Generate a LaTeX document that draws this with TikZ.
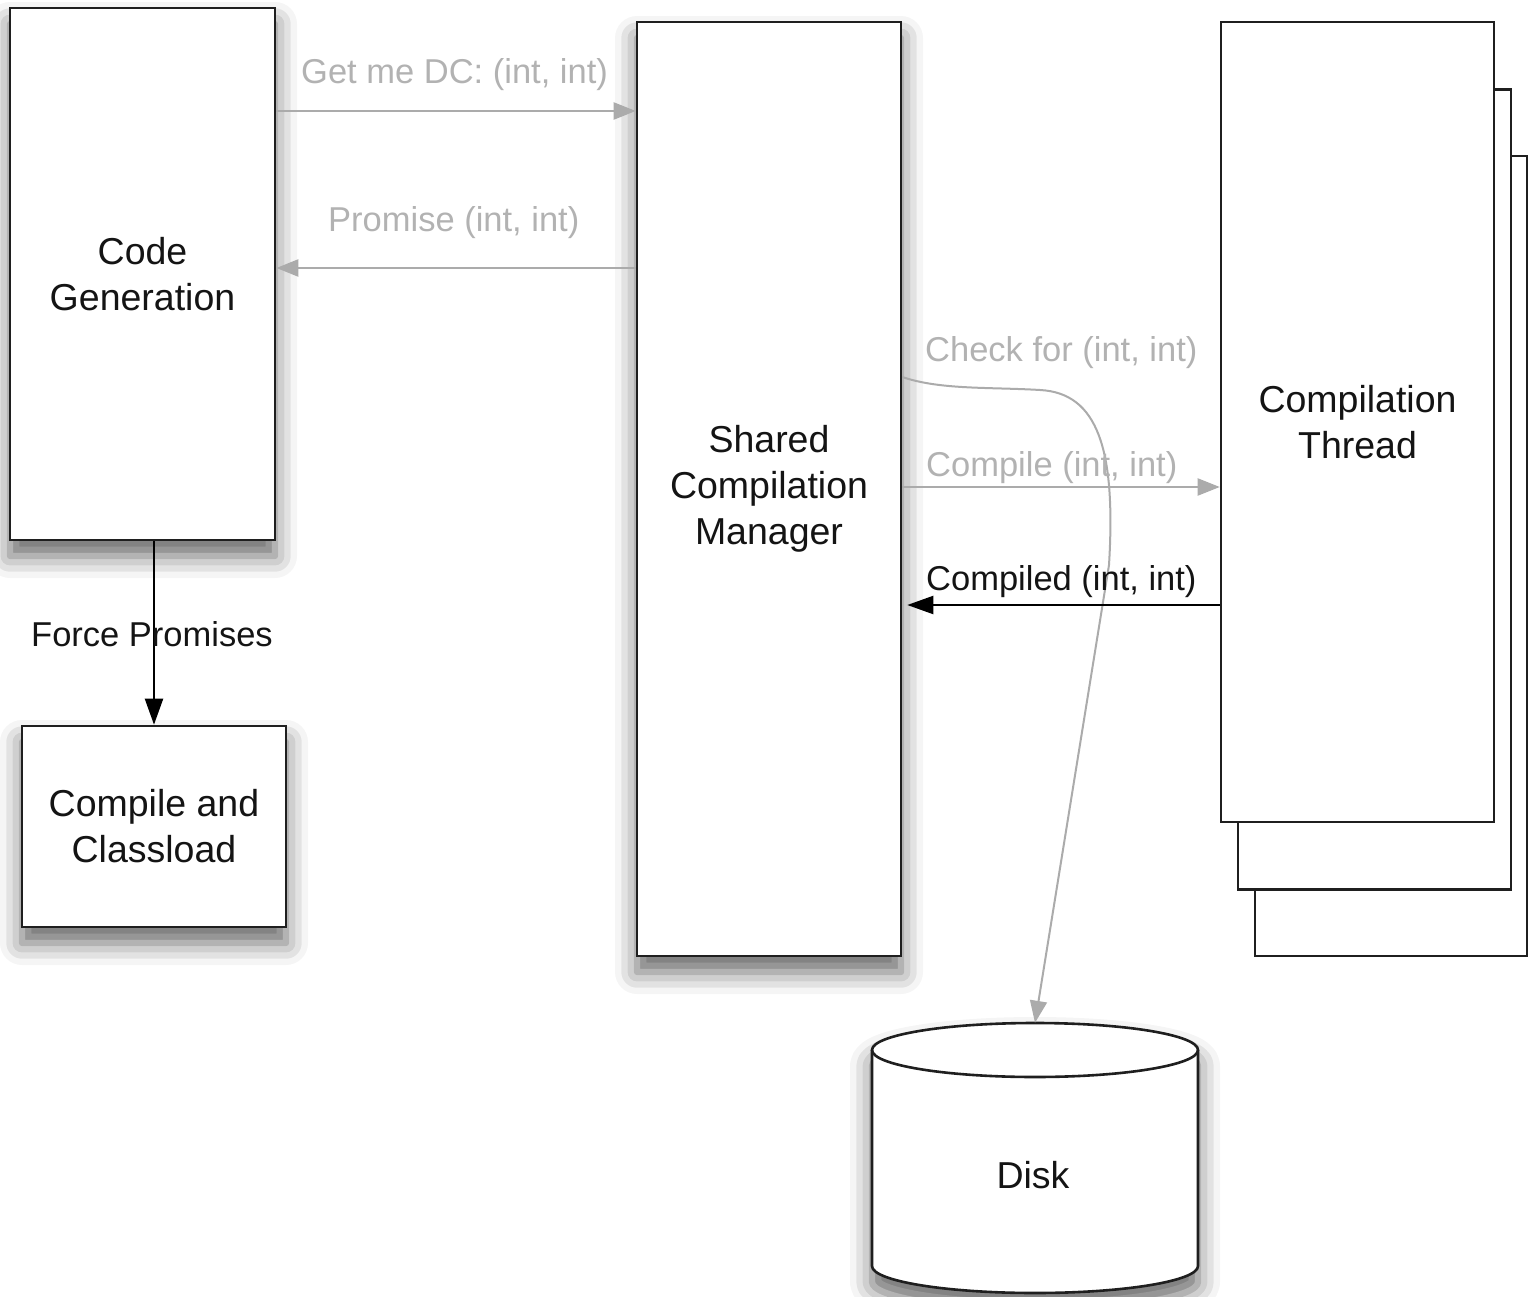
\documentclass[tikz,border=0pt]{standalone}
\usepackage{fontspec}
\setmainfont{Liberation Sans}
\usetikzlibrary{arrows.meta,shadows.blur}
\begin{document}
\begin{tikzpicture}[x=1pt,y=1pt,
  box/.style={draw=black!88, line width=2.6pt, fill=white, align=center, inner sep=0pt, text=black!92, font=\fontsize{37.5}{46}\selectfont},
  shad/.style={blur shadow={shadow xshift=0pt, shadow yshift=-16pt, shadow blur radius=22pt, shadow opacity=60}},
  glbl/.style={font=\fontsize{34.5}{40}\selectfont, inner sep=0pt, text=black!30, anchor=base west},
  blbl/.style={font=\fontsize{34.5}{40}\selectfont, inner sep=0pt, text=black!92, anchor=base west},
  garrow/.style={draw=black!33, line width=2pt, -{Triangle[length=22pt,width=17pt]}},
  barrow/.style={draw=black, line width=2.2pt, -{Triangle[length=26pt,width=18pt]}},
]
\useasboundingbox (0,0) rectangle (1529,-1297);

% boxes
\node[box, shad, minimum width=265, minimum height=532] (cg) at (142.5,-274) {Code\\Generation};
\node[box, shad, minimum width=264, minimum height=201] (ccl) at (154,-826.5) {Compile and\\Classload};
\node[box, shad, minimum width=264, minimum height=934] (scm) at (769,-489) {Shared\\Compilation\\Manager};

% compilation thread stack
\node[box, minimum width=272, minimum height=800] (ct3) at (1391,-556) {};
\node[box, minimum width=273, minimum height=800] (ct2) at (1374.5,-489.5) {};
\node[box, minimum width=273, minimum height=800] (ct) at (1357.5,-422) {Compilation\\Thread};

% disk
\node[minimum width=326, minimum height=270, inner sep=0pt] (disk) at (1035,-1158) {};
\path[shad, fill=white] (872,-1050) -- (872,-1266) arc[start angle=180, end angle=360, x radius=163, y radius=27] -- (1198,-1050) arc[start angle=0, end angle=180, x radius=163, y radius=27] -- cycle;
\draw[draw=black!88, line width=2.6pt, fill=white] (872,-1050) -- (872,-1266) arc[start angle=180, end angle=360, x radius=163, y radius=27] -- (1198,-1050);
\draw[draw=black!88, line width=2.6pt] (1035,-1050) ellipse[x radius=163, y radius=27];
\node[font=\fontsize{37.5}{46}\selectfont, text=black!92, inner sep=0pt] (disklbl) at (1033,-1175) {Disk};

% connectors
\coordinate (y1) at (0,-111);
\coordinate (y2) at (0,-268);
\coordinate (y3) at (0,-377);
\coordinate (y4) at (0,-487);
\coordinate (y5) at (0,-605);

\draw[garrow] (cg.east |- y1) -- (scm.west |- y1);
\node[glbl] (l1) at (301,-84) {Get me DC: (int, int)};

\draw[garrow] (scm.west |- y2) -- (cg.east |- y2);
\node[glbl] (l2) at (328,-232) {Promise (int, int)};

\draw[barrow] (cg.south -| ccl.north) -- (ccl.north);
\node[blbl] (l3) at (31,-646) {Force Promises};

\draw[garrow] (scm.east |- y3) .. controls (940,-390) and (990,-387) .. (1040,-390) .. controls (1098,-393) and (1116,-450) .. (1109,-565) -- (disk.north);
\node[glbl] (l4) at (925,-362) {Check for (int, int)};

\draw[garrow] (scm.east |- y4) -- (ct.west |- y4);
\node[glbl] (l5) at (926,-476) {Compile (int, int)};

\draw[barrow] (ct.west |- y5) -- ([xshift=5pt]scm.east |- y5);
\node[blbl] (l6) at (926,-590) {Compiled (int, int)};
\end{tikzpicture}
\end{document}
